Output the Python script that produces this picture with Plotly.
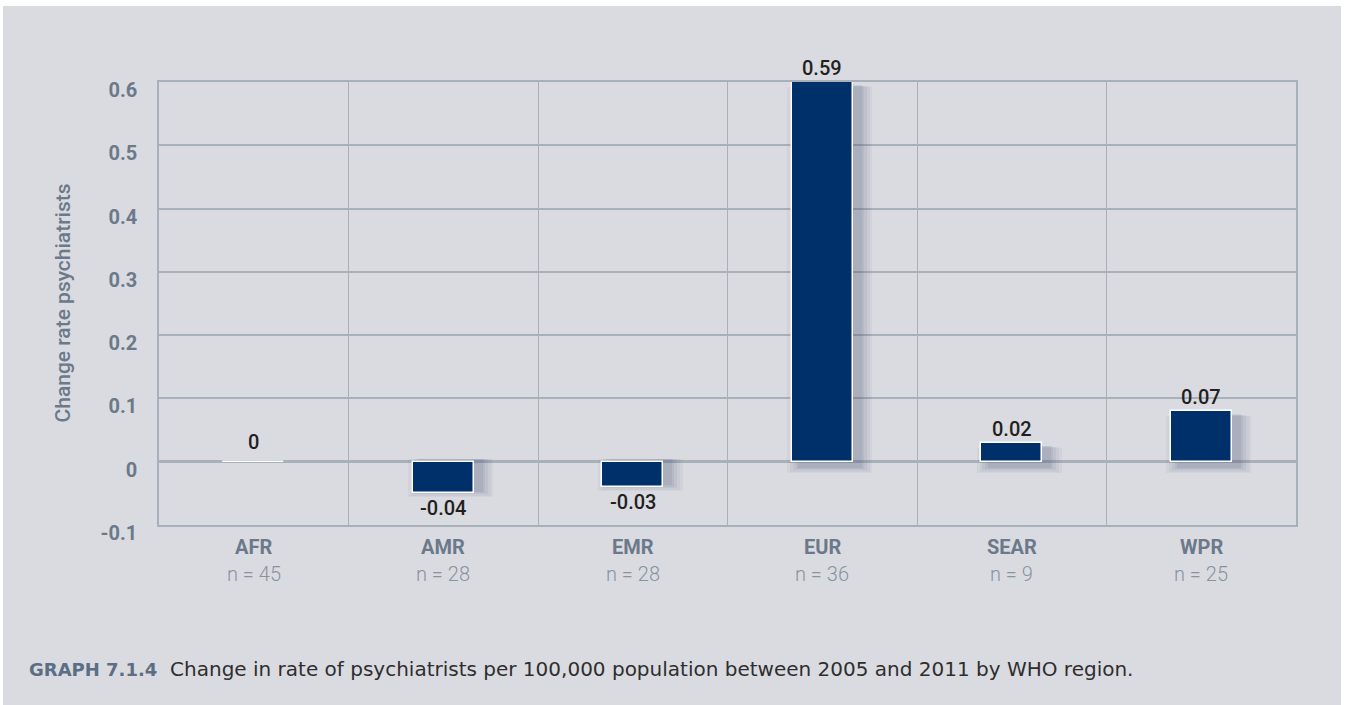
import plotly.graph_objects as go

# ---------------- data ----------------
regions = ["AFR", "AMR", "EMR", "EUR", "SEAR", "WPR"]
n_counts = ["n = 45", "n = 28", "n = 28", "n = 36", "n = 9", "n = 25"]
bar_values = [0.0, -0.05, -0.04, 0.60, 0.03, 0.08]
value_labels = ["0", "-0.04", "-0.03", "0.59", "0.02", "0.07"]
y_ticks = [-0.1, 0, 0.1, 0.2, 0.3, 0.4, 0.5, 0.6]
y_tick_text = ["-0.1", "0", "0.1", "0.2", "0.3", "0.4", "0.5", "0.6"]
y_title = "Change rate psychiatrists"
caption_head = "GRAPH 7.1.4"
caption_body = "Change in rate of psychiatrists per 100,000 population between 2005 and 2011 by WHO region."

# ---------------- style ----------------
W, H = 1349, 705
ML, MR, MT, MB = 159, 53, 82, 180
PW, PH = W - ML - MR, H - MT - MB
BG = "#dadbe0"
GRID = "#a8b0ba"
NAVY = "#00306a"
TICK_COL = "#6b798b"
N_COL = "#8893a2"
DARK = "#231f20"
FONT = "Roboto, Liberation Sans, sans-serif"
CAP_FONT = "DejaVu Sans, Liberation Sans, sans-serif"
BAR_W = 0.32

xs = list(range(len(regions)))

fig = go.Figure()

# soft drop shadow layers (offset right/down)
shadow_layers = [(0.13, 0.05), (0.10, 0.06), (0.07, 0.07), (0.04, 0.08), (0.015, 0.09)]
for extra, alpha in shadow_layers:
    fig.add_trace(go.Bar(
        x=[x + 0.04 for x in xs],
        y=[(v + 0.003 + extra * 0.06) if v > 0 else (v - extra * 0.08 if v < 0 else 0) for v in bar_values],
        base=[(-0.008 - extra * 0.08) if v > 0 else (0.004 if v < 0 else 0) for v in bar_values],
        width=BAR_W + extra,
        marker=dict(color=f"rgba(70,78,115,{alpha})", line=dict(width=0)),
        hoverinfo="skip", showlegend=False,
    ))

fig.add_trace(go.Bar(
    x=xs, y=bar_values, width=BAR_W,
    marker=dict(color=NAVY, line=dict(color="white", width=1.5)),
    showlegend=False,
))

# value labels
for x, v, t in zip(xs, bar_values, value_labels):
    if v > 0:
        fig.add_annotation(x=x, y=v, text=t, showarrow=False, yanchor="bottom", yshift=0,
                           font=dict(size=20, color=DARK, family=FONT, weight=500))
    elif v < 0:
        fig.add_annotation(x=x, y=v, text=t, showarrow=False, yanchor="top", yshift=-1,
                           font=dict(size=20, color=DARK, family=FONT, weight=500))
    else:
        fig.add_annotation(x=x, y=v, text=t, showarrow=False, yanchor="bottom", yshift=6,
                           font=dict(size=20, color=DARK, family=FONT, weight=500))

# category labels
for x, r, n in zip(xs, regions, n_counts):
    fig.add_annotation(x=x, y=0, yref="paper", text=r, showarrow=False,
                       yanchor="middle", yshift=-22,
                       font=dict(size=20, color=TICK_COL, family=FONT, weight="bold"))
    fig.add_annotation(x=x, y=0, yref="paper", text=n, showarrow=False,
                       yanchor="middle", yshift=-49,
                       font=dict(size=20, color=N_COL, family=FONT, weight=300))

# y-axis title
fig.add_annotation(x=0, xref="paper", y=0.5, yref="paper", text=y_title, textangle=-90,
                   showarrow=False, xanchor="center", yanchor="middle", xshift=-97, yshift=0,
                   font=dict(size=21, color=TICK_COL, family=FONT, weight=500))

# caption
fig.add_annotation(x=(27 - ML) / PW, xref="paper", y=(H - MB - 669) / PH, yref="paper",
                   xanchor="left", yanchor="middle", showarrow=False,
                   text=(f"<b><span style='color:#5b6e86;font-size:18px'>{caption_head}</span></b>"
                         f"  {caption_body}"),
                   font=dict(size=20, color="#2e2e2e", family=CAP_FONT))

# gray background panel (white strip top/right)
fig.add_shape(type="rect", xref="paper", yref="paper", layer="below",
              x0=(3 - ML) / PW, x1=(1341 - ML) / PW,
              y0=(H - MB - 706) / PH, y1=(H - MB - 6) / PH,
              fillcolor=BG, line=dict(width=0))

fig.update_layout(
    width=W, height=H,
    margin=dict(l=ML, r=MR, t=MT, b=MB),
    paper_bgcolor="white", plot_bgcolor="rgba(0,0,0,0)",
    barmode="overlay", bargap=0,
    font=dict(family=FONT),
    xaxis=dict(
        range=[-0.5, len(regions) - 0.5], tickvals=xs, ticktext=[""] * len(xs),
        showgrid=False, zeroline=False, showline=True, mirror=True,
        linecolor=GRID, linewidth=1.5, ticks="",
        minor=dict(tick0=-0.5, dtick=1, showgrid=True, gridcolor=GRID, gridwidth=1, ticks=""),
        fixedrange=True,
    ),
    yaxis=dict(
        range=[-0.1, 0.6], tickvals=y_ticks, ticktext=y_tick_text,
        showgrid=True, gridcolor=GRID, gridwidth=1.7,
        zeroline=True, zerolinecolor=GRID, zerolinewidth=3,
        showline=True, mirror=True, linecolor=GRID, linewidth=1.5,
        ticks="", ticklabelstandoff=16, ticklabelshift=8,
        tickfont=dict(size=20, color=TICK_COL, family=FONT, weight="bold"),
        fixedrange=True,
    ),
)

fig.write_html(
    "out.html",
    config={"displayModeBar": False},
    post_script="document.body.style.margin='0';document.body.style.overflow='hidden';",
)
